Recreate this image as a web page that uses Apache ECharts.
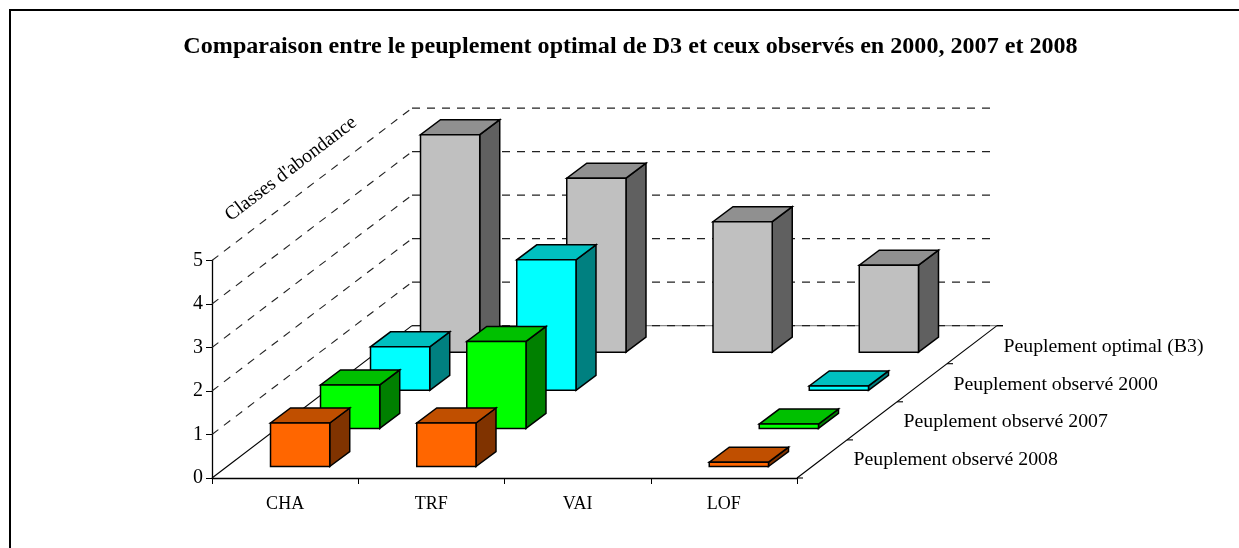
<!DOCTYPE html>
<html><head><meta charset="utf-8">
<style>html,body{margin:0;padding:0;background:#fff}#c{width:1239px;height:548px}</style>
<script src="https://cdn.jsdelivr.net/npm/echarts@6/dist/echarts.min.js"></script>
</head><body><div id="c"></div>
<script>
const titleText = "Comparaison entre le peuplement optimal de D3 et ceux observés en 2000, 2007 et 2008";
const yAxisTitle = "Classes d'abondance";
const categories = ["CHA", "TRF", "VAI", "LOF"];
const depthNames = ["Peuplement observé 2008", "Peuplement observé 2007", "Peuplement observé 2000", "Peuplement optimal (B3)"];
const optimalB3 = [5, 4, 3, 2];
const observed2000 = [1, 3, null, 0.1];
const observed2007 = [1, 2, null, 0.1];
const observed2008 = [1, 1, null, 0.1];
const yTicks = [0, 1, 2, 3, 4, 5];

const FONT = '"Liberation Serif","Times New Roman",serif';
const STEP_X = 50, STEP_Y = 38.1, DEPTHS = 4;
const BAR_W = 0.405, BOX_X = 20, BOX_Y = 15;
const INSET_X = 15, INSET_Y = 11.5;

const chart = echarts.init(document.getElementById('c'), null, {renderer: 'canvas'});

function frameRender(params, api) {
  const s = params.coordSys;
  const x0 = s.x, y0 = s.y + s.height, x1 = s.x + s.width;
  const dx = STEP_X * DEPTHS, dy = STEP_Y * DEPTHS;
  const kids = [];
  const line = (a, b, c, d, style) => kids.push({type: 'line', shape: {x1: a, y1: b, x2: c, y2: d},
    style: Object.assign({stroke: '#000', lineWidth: 1.1, fill: null}, style)});
  const dash = {lineDash: [8, 7], stroke: '#222'};
  yTicks.forEach(t => {
    const y = api.coord([0, t])[1];
    if (t > 0) {
      line(x0, y, x0 + dx, y - dy, dash);
      line(x0 + dx, y - dy, x1 + dx, y - dy, dash);
    }
  });
  line(x0 + dx, y0 - dy, x1 + dx + 6, y0 - dy, {stroke: '#888'});
  line(x0 + dx, y0 - dy, x1 + dx + 6, y0 - dy, dash);
  line(x0, y0, x0 + dx, y0 - dy);
  line(x1, y0, x1 + dx, y0 - dy);
  for (let d = 0; d <= DEPTHS; d++) {
    const px = x1 + STEP_X * d, py = y0 - STEP_Y * d;
    line(px, py, px + 6, py);
  }
  depthNames.forEach((n, d) => {
    kids.push({type: 'text', x: x1 + STEP_X * d + 6.5 + 50, y: y0 - 37.7 * d - 18,
      style: {text: n, font: '19.8px ' + FONT, fill: '#000', textAlign: 'left', textVerticalAlign: 'middle'}});
  });
  return {type: 'group', children: kids};
}

function boxRender(depth, front, top, side) {
  return function (params, api) {
    const v = api.value(1);
    if (v == null || isNaN(v)) return;
    const c = api.value(0);
    const band = api.size([1, 0])[0];
    const w = band * BAR_W;
    const base = api.coord([c, 0]);
    const head = api.coord([c, v]);
    const ox = depth * STEP_X + INSET_X, oy = depth * STEP_Y + INSET_Y;
    const l = base[0] - w / 2 + ox, r = l + w;
    const b = base[1] - oy, t = head[1] - oy;
    const st = f => ({fill: f, stroke: '#000', lineWidth: 1.5, lineJoin: 'miter'});
    const poly = (pts, f) => ({type: 'polygon', shape: {points: pts}, style: st(f)});
    return {type: 'group', children: [
      poly([[r, b], [r + BOX_X, b - BOX_Y], [r + BOX_X, t - BOX_Y], [r, t]], side),
      poly([[l, t], [r, t], [r + BOX_X, t - BOX_Y], [l + BOX_X, t - BOX_Y]], top),
      poly([[l, b], [r, b], [r, t], [l, t]], front)
    ]};
  };
}

function boxSeries(name, values, depth, front, top, side) {
  return {
    type: 'custom', name, coordinateSystem: 'cartesian2d', clip: false,
    data: values.map((v, i) => [i, v]),
    encode: {x: 0, y: 1},
    renderItem: boxRender(depth, front, top, side)
  };
}

chart.setOption({
  animation: false,
  backgroundColor: '#fff',
  title: {text: titleText, left: 625.5, top: 30, textAlign: 'center',
    textStyle: {fontFamily: FONT, fontWeight: 'bold', fontSize: 24.1, color: '#000'}},
  grid: {left: 212, top: 260.5, width: 585, height: 217.5, containLabel: false},
  xAxis: {type: 'category', data: categories, boundaryGap: true,
    axisLine: {lineStyle: {color: '#000', width: 1.3}},
    axisTick: {show: true, alignWithLabel: false, length: 6, lineStyle: {color: '#000'}},
    axisLabel: {fontFamily: FONT, fontSize: 18, color: '#000', margin: 17, interval: 0},
    splitLine: {show: false}},
  yAxis: {type: 'value', min: 0, max: 5, interval: 1,
    axisLine: {show: true, lineStyle: {color: '#000', width: 1.3}},
    axisTick: {show: true, length: 6, lineStyle: {color: '#000'}},
    axisLabel: {fontFamily: FONT, fontSize: 20, color: '#000', margin: 9},
    splitLine: {show: false}},
  graphic: [
    {type: 'rect', silent: true, shape: {x: 10, y: 10, width: 1300, height: 600},
      style: {fill: 'none', stroke: '#000', lineWidth: 2}, z: -1},
    {type: 'text', x: 291, y: 169, rotation: 37.3 * Math.PI / 180, z: 5,
      style: {text: yAxisTitle, font: '19.5px ' + FONT, fill: '#000', textAlign: 'center', textVerticalAlign: 'middle'}}
  ],
  series: [
    {type: 'custom', name: 'cadre', coordinateSystem: 'cartesian2d', clip: false, silent: true,
      data: [[0, 0]], encode: {x: 0, y: 1}, renderItem: frameRender},
    boxSeries(depthNames[3], optimalB3, 3, '#C0C0C0', '#909090', '#606060'),
    boxSeries(depthNames[2], observed2000, 2, '#00FFFF', '#00C0C0', '#008080'),
    boxSeries(depthNames[1], observed2007, 1, '#00FF00', '#00C000', '#008000'),
    boxSeries(depthNames[0], observed2008, 0, '#FF6600', '#C04F00', '#803300')
  ]
});
</script></body></html>
